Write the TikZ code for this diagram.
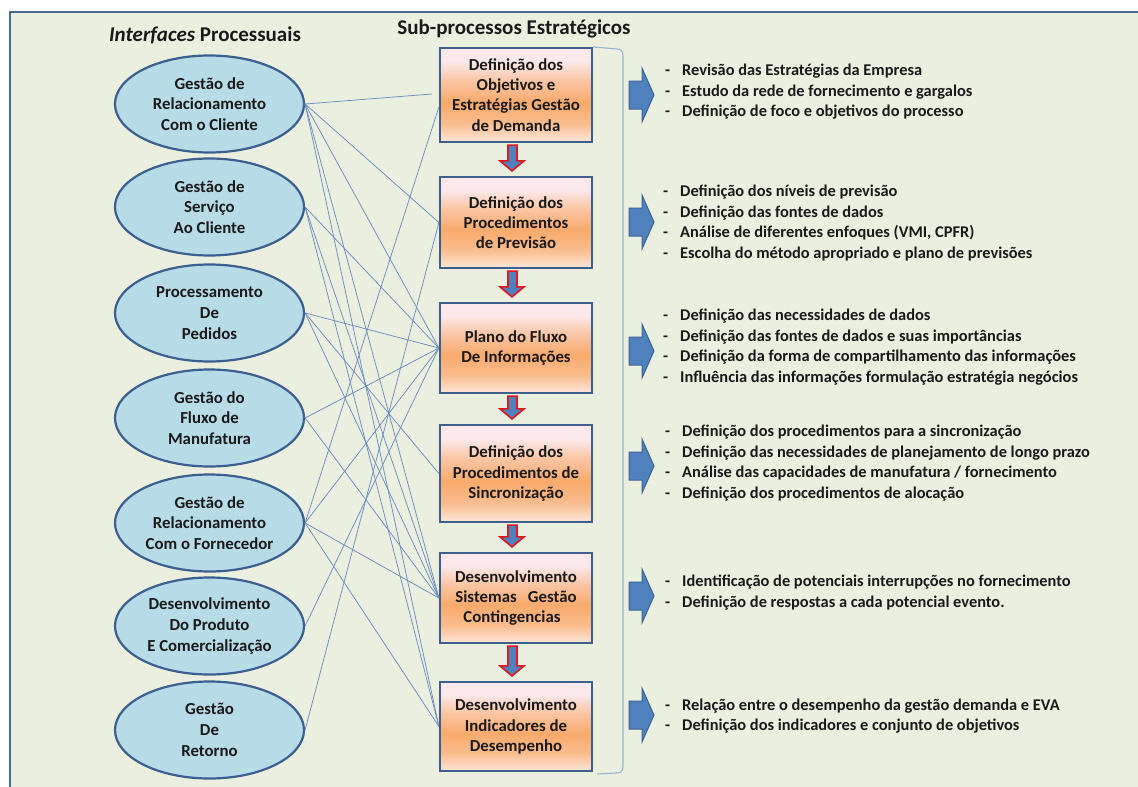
\documentclass[tikz,border=0pt]{standalone}
\usepackage{fontspec}
\setmainfont{Carlito}
\usetikzlibrary{calc,shapes.geometric}

\definecolor{bg}{HTML}{EBEFDF}
\definecolor{framec}{HTML}{4A6A97}
\definecolor{ellfill}{HTML}{B7DCE8}
\definecolor{ellline}{HTML}{3B5F8E}
\definecolor{boxline}{HTML}{3E5F8C}
\definecolor{linkc}{HTML}{6C8DC2}
\definecolor{arrowblue}{HTML}{4F81BD}
\definecolor{arrowred}{HTML}{E3161C}
\definecolor{arrowedge}{HTML}{3C6496}
\definecolor{bracec}{HTML}{9AB3D3}
\definecolor{txt}{HTML}{1A1A1A}
\definecolor{pk}{HTML}{FCE9EC}
\definecolor{org}{HTML}{F8AA6C}
\definecolor{pb}{HTML}{FDE7DA}

% vertical shading of the sub-process boxes (25bp = bottom, 75bp = top)
\pgfdeclareverticalshading{stepshade}{100bp}{color(0bp)=(pb); color(25bp)=(pb);
  color(35bp)=(org!70!pb); color(46bp)=(org); color(58bp)=(org!55!pk);
  color(68bp)=(pk); color(100bp)=(pk)}

\newcommand\itm{\makebox[17pt][l]{-}}

\newcommand\fatdown[2]{%
  \draw[fatdown] ($(#1.south)+(-8,2)$) -- ($(#1.south)+(1,2)$)
    -- ($(#2.north)+(1,-15)$) -- ($(#2.north)+(8,-15)$)
    -- ($(#2.north)+(-4,-5)$) -- ($(#2.north)+(-16,-15)$)
    -- ($(#2.north)+(-8,-15)$) -- cycle;}

\newcommand\rblock[1]{%
  \draw[fatright, shift={(0,#1)}] (629,-14) -- (642,-14) -- (642,-27) -- (654,0)
    -- (642,27) -- (642,14) -- (629,14) -- cycle;}

\tikzset{
  proc/.style={ellipse, draw=ellline, line width=2.2pt, fill=ellfill,
    minimum width=189pt, minimum height=97pt, inner sep=0pt, align=center,
    text=txt, font=\fontsize{16.8}{20.8}\selectfont\bfseries},
  stepbox/.style={rectangle, draw=boxline, line width=2.2pt, shading=stepshade,
    minimum width=152pt, inner sep=0pt, align=center, text=txt,
    font=\fontsize{16.8}{20.3}\selectfont\bfseries},
  link/.style={draw=linkc, line width=0.75pt},
  fatdown/.style={fill=arrowblue, draw=arrowred, line width=1.6pt},
  fatright/.style={fill=arrowblue, draw=arrowedge, line width=1pt},
  notes/.style={anchor=west, align=left, inner sep=0pt, text=txt,
    font=\fontsize{16.4}{20.5}\selectfont\bfseries},
  heading/.style={text=txt, inner sep=0pt, font=\fontsize{21}{24}\selectfont\bfseries},
}

\begin{document}
\begin{tikzpicture}[x=1pt, y=-1pt]
\useasboundingbox (0,0) rectangle (1138,787);

% background panel and its frame
\fill[bg] (10,12) rectangle (1138,787);
\draw[framec, line width=2.2pt] (10,787) -- (10,12) -- (1138,12);

% headings
\node[heading] (h1) at (205,35) {\textit{Interfaces} Processuais};
\node[heading] (h2) at (514,29) {Sub-processos Estratégicos};

% interface processes
\node[proc] (e1) at (209.5,104) {Gestão de\\Relacionamento\\Com o Cliente};
\node[proc] (e2) at (209.5,207) {Gestão de\\Serviço\\Ao Cliente};
\node[proc] (e3) at (209.5,313) {Processamento\\De\\Pedidos};
\node[proc] (e4) at (209.5,418) {Gestão do\\Fluxo de\\Manufatura};
\node[proc] (e5) at (209.5,523) {Gestão de\\Relacionamento\\Com o Fornecedor};
\node[proc] (e6) at (209.5,626) {Desenvolvimento\\Do Produto\\E Comercialização};
\node[proc] (e7) at (209.5,730) {Gestão\\De\\Retorno};

% strategic sub-processes
\node[stepbox, minimum height=94pt] (b1) at (516,95) {Definição dos\\Objetivos e\\Estratégias Gestão\\de Demanda};
\node[stepbox, minimum height=91pt] (b2) at (516,222.5) {Definição dos\\Procedimentos\\de Previsão};
\node[stepbox, minimum height=90pt] (b3) at (516,348) {Plano do Fluxo\\De Informações};
\node[stepbox, minimum height=97pt] (b4) at (516,473.5) {Definição dos\\Procedimentos de\\Sincronização};
\node[stepbox, minimum height=90pt, text width=140pt, align=center] (b5) at (516,598) {Desenvolvimento\\Sistemas~ Gestão\\Contingencias\hspace*{8pt}};
\node[stepbox, minimum height=89pt] (b6) at (516,726.5) {Desenvolvimento\\Indicadores de\\Desempenho};

% links between interfaces and sub-processes
\draw[link] (e1.east) -- ($(b1.west)+(-7,-1)$);
\draw[link] (e5.east) -- ($(b1.west)+(0,12)$);
\foreach \a/\b in {e1/b2, e7/b2,
                   e1/b3, e2/b3, e3/b3, e4/b3, e5/b3, e6/b3,
                   e3/b4,
                   e1/b5, e2/b5, e3/b5, e4/b5, e5/b5,
                   e1/b6, e2/b6, e5/b6}
  \draw[link] (\a.east) -- (\b.west);

% flow between sub-processes
\fatdown{b1}{b2}
\fatdown{b2}{b3}
\fatdown{b3}{b4}
\fatdown{b4}{b5}
\fatdown{b5}{b6}

% bracket grouping the sub-processes
\draw[bracec, line width=1.1pt] (b1.north east) -- (617,49)
  .. controls (621,49) and (623,51) .. (623,56) -- (623,766)
  .. controls (623,771) and (621,773) .. (616,773) -- (597,774);

% block arrows towards the activity lists
\rblock{95}
\rblock{222}
\rblock{351}
\rblock{466}
\rblock{596}
\rblock{715}

% activity lists
\node[notes] (n1) at (665,92) {\itm Revisão das Estratégias da Empresa\\
  \itm Estudo da rede de fornecimento e gargalos\\
  \itm Definição de foco e objetivos do processo};
\node[notes] (n2) at (663,223) {\itm Definição dos níveis de previsão\\
  \itm Definição das fontes de dados\\
  \itm Análise de diferentes enfoques (VMI, CPFR)\\
  \itm Escolha do método apropriado e plano de previsões};
\node[notes] (n3) at (663,347) {\itm Definição das necessidades de dados\\
  \itm Definição das fontes de dados e suas importâncias\\
  \itm Definição da forma de compartilhamento das informações\\
  \itm Influência das informações formulação estratégia negócios};
\node[notes] (n4) at (665,463) {\itm Definição dos procedimentos para a sincronização\\
  \itm Definição das necessidades de planejamento de longo prazo\\
  \itm Análise das capacidades de manufatura / fornecimento\\
  \itm Definição dos procedimentos de alocação};
\node[notes] (n5) at (665,592.5) {\itm Identificação de potenciais interrupções no fornecimento\\
  \itm Definição de respostas a cada potencial evento.};
\node[notes] (n6) at (665,716) {\itm Relação entre o desempenho da gestão demanda e EVA\\
  \itm Definição dos indicadores e conjunto de objetivos};
\end{tikzpicture}
\end{document}
